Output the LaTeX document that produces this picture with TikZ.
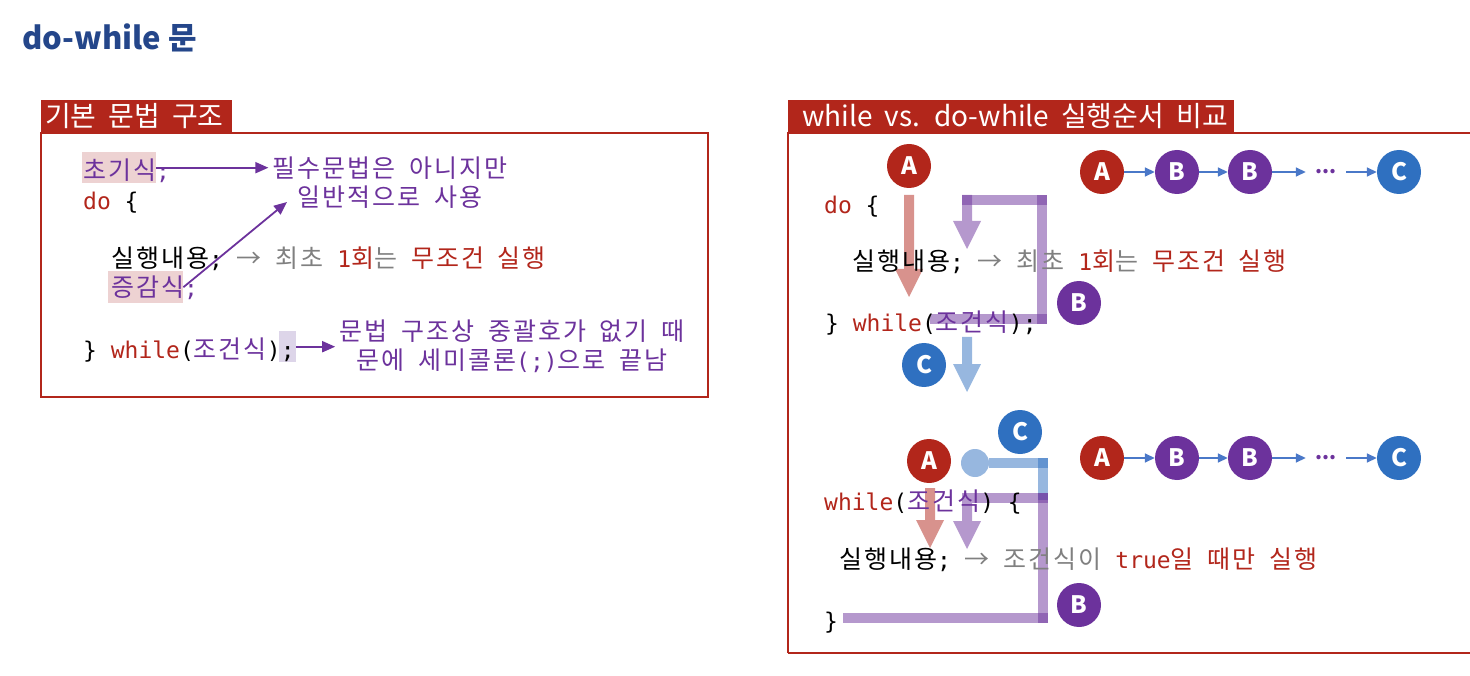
\documentclass[tikz,border=0pt]{standalone}
\usepackage{fontspec}
\setmainfont{Noto Sans CJK KR}
\newfontfamily\krfont{Noto Sans CJK KR}[LetterSpace=8]
\newfontfamily\monofont{DejaVu Sans Mono}[Scale=0.92]
\usetikzlibrary{arrows.meta}

\definecolor{hdred}{HTML}{B2261B}
\definecolor{kred}{HTML}{B2261B}
\definecolor{kpurple}{HTML}{6C329C}
\definecolor{kblue}{HTML}{2F70C0}
\definecolor{kgray}{HTML}{808080}
\definecolor{ttblue}{HTML}{24468A}
\definecolor{pinkhl}{HTML}{EDD2D2}
\definecolor{lilachl}{HTML}{DDD5E9}
\definecolor{chainblue}{HTML}{4A78C8}
\newcommand{\mono}[1]{{\monofont #1}}
\newcommand{\widesp}[1]{\spaceskip=#1\relax}
% fat translucent arrow pointing down: colour, x, top, tip
\newcommand{\fatdown}[4]{%
  \fill[#1, opacity=.5] (#2-5,#3) -- (#2-5,#4-28) -- (#2-14,#4-28) -- (#2,#4)
    -- (#2+14,#4-28) -- (#2+5,#4-28) -- (#2+5,#3) -- cycle;}

\begin{document}
\begin{tikzpicture}[x=1pt, y=-1pt,
  code/.style={anchor=base west, inner sep=0pt, font=\krfont\fontsize{25}{29}\selectfont, execute at begin node={\widesp{13.8pt}}},
  note/.style={align=center, anchor=base, inner sep=4pt, text=kpurple, font=\krfont\fontsize{25}{29}\selectfont, execute at begin node={\widesp{13.8pt}}},
  tabtext/.style={anchor=base west, inner sep=0pt, text=white, font=\fontsize{28}{28}\selectfont, execute at begin node={\widesp{12pt}}},
  hlbox/.style={fill=#1, inner sep=0pt, anchor=north west},
  ball/.style={circle, fill=#1, text=white, inner sep=0pt, minimum size=44pt, font=\bfseries\fontsize{24}{24}\selectfont},
  dots/.style={text=kpurple, inner sep=0pt, minimum width=40pt, font=\bfseries\fontsize{20}{20}\selectfont},
  chain/.style={chainblue, line width=1.5pt, -{Triangle[length=10pt, width=9pt]}},
  pointer/.style={kpurple, line width=1.8pt, -{Triangle[length=13pt, width=11pt]}},
  flow/.style={line width=10pt, opacity=.5}]
  \useasboundingbox (0,0) rectangle (1470,676);

  \node[anchor=base west, inner sep=0pt, text=ttblue, font=\bfseries\fontsize{31}{31}\selectfont] (title) at (22,50) {do-while 문};

  % left: basic syntax
  \fill[hdred] (41,100) rectangle (232,134);
  \node[tabtext] (tabl) at (45,127) {기본 문법 구조};
  \draw[hdred, line width=2.5pt] (41,133) rectangle (708,397);

  \node[hlbox=pinkhl, minimum width=74pt, minimum height=31pt] (hinit) at (82,152) {};
  \node[hlbox=pinkhl, minimum width=75pt, minimum height=32pt] (hinc) at (108,271) {};
  \node[hlbox=lilachl, minimum width=17pt, minimum height=31pt] (hsemi) at (279,331) {};

  \node[code, text=kpurple] (init) at (83,180) {초기식\mono{;}};
  \node[code] (dol) at (83,210) {\mono{\textcolor{kred}{do} \{}};
  \node[code] (bodyl) at (111,268) {실행내용\mono{;} \textcolor{kgray}{→ 최초 }\textcolor{kred}{\mono{1}회}\textcolor{kgray}{는 }\textcolor{kred}{무조건 실행}};
  \node[code, text=kpurple] (incl) at (111,297) {증감식\mono{;}};
  \node[code] (condl) at (83,358) {\mono{\} \textcolor{kred}{while}(}\textcolor{kpurple}{조건식}\mono{);}};

  \node[note] (n1) at (390,207) {필수문법은 아니지만\\일반적으로 사용};
  \node[note] (n2) at (512,370) {문법 구조상 중괄호가 없기 때\\문에 세미콜론\mono{(;)}으로 끝남};
  \coordinate (tipd) at (287,202);

  \draw[pointer] (hinit.east) -- (hinit.east -| n1.west);
  \draw[pointer] (hinc.east) -- (tipd);
  \draw[pointer] (hsemi.east) -- (hsemi.east -| n2.west);

  % right: order of execution
  \fill[hdred] (788,100) rectangle (1234,134);
  \node[tabtext] (tabr) at (802,127) {while vs. do-while 실행순서 비교};
  \draw[hdred, line width=2.5pt] (788,653) -- (788,133) -- (1472,133);
  \draw[hdred, line width=2.5pt] (788,653) -- (1472,653);

  % do-while flow
  \fatdown{kred}{909}{195}{297}
  \draw[flow, kpurple] (930,319) -- (1047,319);
  \draw[flow, kpurple] (1042,324) -- (1042,195);
  \draw[flow, kpurple] (1047,200) -- (962,200);
  \fatdown{kpurple}{967}{195}{249}
  \fatdown{kblue}{967}{337}{392}

  % while flow
  \fill[kblue, opacity=.5] (975,463) circle (14pt);
  \draw[flow, kblue] (989,463) -- (1048,463);
  \draw[flow, kblue] (1043,458) -- (1043,500);
  \draw[flow, kpurple] (962,498) -- (1048,498);
  \draw[flow, kpurple] (1043,493) -- (1043,623);
  \draw[flow, kpurple] (1048,618) -- (843,618);
  \fatdown{kred}{930}{488}{548}
  \fatdown{kpurple}{967}{503}{549}

  \node[code] (dor) at (824,214) {\mono{\textcolor{kred}{do} \{}};
  \node[code] (bodyr) at (852,271) {실행내용\mono{;} \textcolor{kgray}{→ 최초 }\textcolor{kred}{\mono{1}회}\textcolor{kgray}{는 }\textcolor{kred}{무조건 실행}};
  \node[code] (condr) at (825,331) {\mono{\} \textcolor{kred}{while}(}\textcolor{kpurple}{조건식}\mono{);}};
  \node[code] (wh) at (824,510) {\mono{\textcolor{kred}{while}(}\textcolor{kpurple}{조건식}\mono{) \{}};
  \node[code] (bodyw) at (839,568) {실행내용\mono{;} \textcolor{kgray}{→ 조건식이 }\textcolor{kred}{\mono{true}일 때만 실행}};
  \node[code] (endw) at (824,629) {\mono{\}}};

  \node[ball=kred] (a1) at (909,166) {A};
  \node[ball=kpurple] (bl1) at (1079,303) {B};
  \node[ball=kblue] (cl1) at (924,365) {C};
  \node[ball=kblue] (cl2) at (1020,432) {C};
  \node[ball=kred] (al2) at (929,461) {A};
  \node[ball=kpurple] (bl2) at (1079,605) {B};

  \foreach \y/\k in {172/1, 458/2} {
    \node[ball=kred] (ca\k) at (1102,\y) {A};
    \node[ball=kpurple] (cba\k) at (1177,\y) {B};
    \node[ball=kpurple] (cbb\k) at (1250,\y) {B};
    \node[dots] (cd\k) at (1326,\y) {...};
    \node[ball=kblue] (cc\k) at (1399,\y) {C};
    \draw[chain] (ca\k) -- (cba\k);
    \draw[chain] (cba\k) -- (cbb\k);
    \draw[chain] (cbb\k) -- (cd\k);
    \draw[chain] (cd\k) -- (cc\k);
  }
\end{tikzpicture}
\end{document}
